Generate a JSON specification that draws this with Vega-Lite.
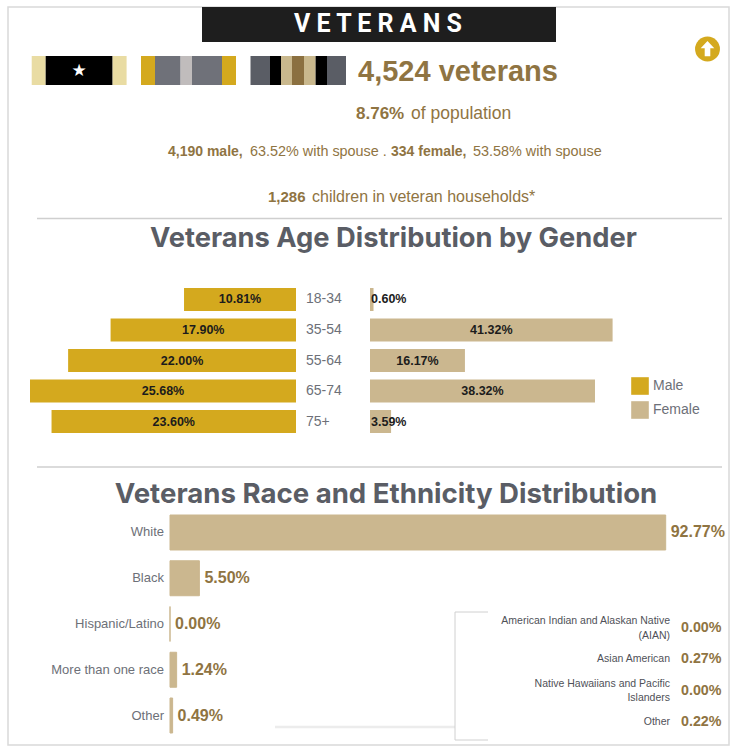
{
"$schema":"https://vega.github.io/schema/vega-lite/v6.json",
"width":730,"height":750,"padding":0,"autosize":{"type":"none"},
"background":"white",
"view":{"stroke":null},
"config":{"view":{"stroke":null},"text":{"font":"Liberation Sans"}},
"datasets":{
"age":[
{"age":"18-34","gender":"Male","pct":0.1081},
{"age":"35-54","gender":"Male","pct":0.1790},
{"age":"55-64","gender":"Male","pct":0.2200},
{"age":"65-74","gender":"Male","pct":0.2568},
{"age":"75+","gender":"Male","pct":0.2360},
{"age":"18-34","gender":"Female","pct":0.0060},
{"age":"35-54","gender":"Female","pct":0.4132},
{"age":"55-64","gender":"Female","pct":0.1617},
{"age":"65-74","gender":"Female","pct":0.3832},
{"age":"75+","gender":"Female","pct":0.0359}],
"race":[
{"race":"White","pct":0.9277},
{"race":"Black","pct":0.0550},
{"race":"Hispanic/Latino","pct":0.0},
{"race":"More than one race","pct":0.0124},
{"race":"Other","pct":0.0049}],
"subrace":[
{"id":"AIAN","label":["American Indian and Alaskan Native","(AIAN)"],"lines":2,"pct":0.0},
{"id":"Asian","label":"Asian American","lines":1,"pct":0.0027},
{"id":"NHPI","label":["Native Hawaiians and Pacific","Islanders"],"lines":2,"pct":0.0},
{"id":"Other","label":"Other","lines":1,"pct":0.0022}],
"ribbons":[
{"ribbon":"A","seg":1,"w":14,"tone":"pale"},
{"ribbon":"A","seg":2,"w":67,"tone":"black"},
{"ribbon":"A","seg":3,"w":14,"tone":"pale"},
{"ribbon":"B","seg":1,"w":14,"tone":"gold"},
{"ribbon":"B","seg":2,"w":25.6,"tone":"slate"},
{"ribbon":"B","seg":3,"w":11.4,"tone":"silver"},
{"ribbon":"B","seg":4,"w":30,"tone":"slate"},
{"ribbon":"B","seg":5,"w":14,"tone":"gold"},
{"ribbon":"C","seg":1,"w":19.5,"tone":"charcoal"},
{"ribbon":"C","seg":2,"w":11,"tone":"black"},
{"ribbon":"C","seg":3,"w":11,"tone":"tan"},
{"ribbon":"C","seg":4,"w":12,"tone":"bronze"},
{"ribbon":"C","seg":5,"w":11.6,"tone":"tan"},
{"ribbon":"C","seg":6,"w":11.4,"tone":"black"},
{"ribbon":"C","seg":7,"w":19,"tone":"charcoal"}]
},
"resolve":{"scale":{"x":"independent","y":"independent"}},
"layer":[
{"data":{"values":[{}]},"mark":{"type":"rect","fill":"white","stroke":"#d9d9d9","strokeWidth":1.5},
 "encoding":{"x":{"value":8},"x2":{"value":729},"y":{"value":7},"y2":{"value":745}}},
{"data":{"values":[{}]},"mark":{"type":"rect","fill":"#1e1e1e"},
 "encoding":{"x":{"value":202},"x2":{"value":556},"y":{"value":7},"y2":{"value":42}}},
{"data":{"values":[{"t":"V E T E R A N S"}]},"mark":{"type":"text","font":"Roboto","fontWeight":"bold","fontSize":25,"color":"white","align":"center","baseline":"middle","x":378,"y":24},
 "encoding":{"text":{"field":"t"}}},
{"data":{"name":"ribbons"},"transform":[{"filter":"datum.ribbon=='A'"}],"mark":{"type":"bar","orient":"horizontal"},
 "encoding":{"x":{"field":"w","type":"quantitative","stack":"zero","axis":null,"scale":{"domain":[0,95],"range":[31.7,126.6]}},"y":{"value":70.5},"size":{"value":29},"order":{"field":"seg"},"detail":{"field":"seg"},
 "fill":{"field":"tone","type":"nominal","legend":null,"scale":{"domain":["pale","black","gold","slate","silver","charcoal","tan","bronze"],"range":["#e9dca3","#000000","#d4a91e","#6f7179","#c0bcbc","#5a5d65","#c9b88d","#8b7040"]}}}},
{"data":{"name":"ribbons"},"transform":[{"filter":"datum.ribbon=='B'"}],"mark":{"type":"bar","orient":"horizontal"},
 "encoding":{"x":{"field":"w","type":"quantitative","stack":"zero","axis":null,"scale":{"domain":[0,95],"range":[141,236]}},"y":{"value":70.5},"size":{"value":29},"order":{"field":"seg"},"detail":{"field":"seg"},
 "fill":{"field":"tone","type":"nominal","legend":null,"scale":{"domain":["pale","black","gold","slate","silver","charcoal","tan","bronze"],"range":["#e9dca3","#000000","#d4a91e","#6f7179","#c0bcbc","#5a5d65","#c9b88d","#8b7040"]}}}},
{"data":{"name":"ribbons"},"transform":[{"filter":"datum.ribbon=='C'"}],"mark":{"type":"bar","orient":"horizontal"},
 "encoding":{"x":{"field":"w","type":"quantitative","stack":"zero","axis":null,"scale":{"domain":[0,95.5],"range":[250.5,346]}},"y":{"value":70.5},"size":{"value":29},"order":{"field":"seg"},"detail":{"field":"seg"},
 "fill":{"field":"tone","type":"nominal","legend":null,"scale":{"domain":["pale","black","gold","slate","silver","charcoal","tan","bronze"],"range":["#e9dca3","#000000","#d4a91e","#6f7179","#c0bcbc","#5a5d65","#c9b88d","#8b7040"]}}}},
{"data":{"values":[{"t":"★"}]},"mark":{"type":"text","font":"DejaVu Sans","fontSize":17,"color":"white","align":"center","baseline":"middle","x":79,"y":71},"encoding":{"text":{"field":"t"}}},
{"data":{"values":[{}]},"mark":{"type":"point","filled":true,"shape":"circle","size":620,"color":"#d4a91e","opacity":1,"x":707.5,"y":49},"encoding":{}},
{"data":{"values":[{}]},"mark":{"type":"point","filled":true,"shape":"M0,-1 L0.85,-0.1 L0.35,-0.1 L0.35,0.9 L-0.35,0.9 L-0.35,-0.1 L-0.85,-0.1 Z","size":256,"color":"white","opacity":1,"x":707.5,"y":49},"encoding":{}},
{"data":{"values":[{"t":"4,524 veterans"}]},"mark":{"type":"text","fontWeight":"bold","fontSize":29,"color":"#8f7442","align":"left","baseline":"middle","x":358,"y":72},"encoding":{"text":{"field":"t"}}},
{"data":{"values":[{"t":"8.76%"}]},"mark":{"type":"text","fontWeight":"bold","fontSize":17,"color":"#8f7442","align":"left","baseline":"middle","x":356,"y":114},"encoding":{"text":{"field":"t"}}},
{"data":{"values":[{"t":"of population"}]},"mark":{"type":"text","fontSize":17.5,"color":"#8f7442","align":"left","baseline":"middle","x":411,"y":114},"encoding":{"text":{"field":"t"}}},
{"data":{"values":[{"t":"4,190 male,"}]},"mark":{"type":"text","fontWeight":"bold","fontSize":14,"color":"#8f7442","align":"left","baseline":"middle","x":168,"y":152},"encoding":{"text":{"field":"t"}}},
{"data":{"values":[{"t":"63.52% with spouse ."}]},"mark":{"type":"text","fontSize":14.4,"color":"#8f7442","align":"left","baseline":"middle","x":250,"y":152},"encoding":{"text":{"field":"t"}}},
{"data":{"values":[{"t":"334 female,"}]},"mark":{"type":"text","fontWeight":"bold","fontSize":14,"color":"#8f7442","align":"left","baseline":"middle","x":391,"y":152},"encoding":{"text":{"field":"t"}}},
{"data":{"values":[{"t":"53.58% with spouse"}]},"mark":{"type":"text","fontSize":14.4,"color":"#8f7442","align":"left","baseline":"middle","x":473,"y":152},"encoding":{"text":{"field":"t"}}},
{"data":{"values":[{"t":"1,286"}]},"mark":{"type":"text","fontWeight":"bold","fontSize":15,"color":"#8f7442","align":"left","baseline":"middle","x":268,"y":197},"encoding":{"text":{"field":"t"}}},
{"data":{"values":[{"t":"children in veteran households*"}]},"mark":{"type":"text","fontSize":16,"color":"#8f7442","align":"left","baseline":"middle","x":312,"y":197},"encoding":{"text":{"field":"t"}}},
{"data":{"values":[{}]},"mark":{"type":"rule","color":"#cfcfcf","strokeWidth":1.5},"encoding":{"x":{"value":37},"x2":{"value":722},"y":{"value":218.5}}},
{"data":{"values":[{}]},"mark":{"type":"rule","color":"#cfcfcf","strokeWidth":1.5},"encoding":{"x":{"value":37},"x2":{"value":722},"y":{"value":467}}},
{"data":{"values":[{"t":"Veterans Age Distribution by Gender"}]},"mark":{"type":"text","font":"Inter","fontWeight":"bold","fontSize":27.3,"color":"#5a5d65","align":"center","baseline":"middle","x":393.5,"y":239},"encoding":{"text":{"field":"t"}}},
{"data":{"values":[{"t":"Veterans Race and Ethnicity Distribution"}]},"mark":{"type":"text","font":"Inter","fontWeight":"bold","fontSize":27.6,"color":"#5a5d65","align":"center","baseline":"middle","x":386,"y":495},"encoding":{"text":{"field":"t"}}},
{"data":{"name":"age"},"transform":[{"filter":"datum.gender=='Male'"}],"mark":"bar",
 "encoding":{"x":{"field":"pct","type":"quantitative","stack":null,"axis":null,"scale":{"domain":[0,0.2568],"range":[296,30]}},
 "y":{"field":"age","type":"ordinal","axis":null,"sort":null,"scale":{"type":"band","domain":["18-34","35-54","55-64","65-74","75+"],"range":[288,433],"paddingInner":0.246,"paddingOuter":0}},
 "color":{"field":"gender","type":"nominal","scale":{"domain":["Male","Female"],"range":["#d4a91e","#cbb78f"]},"legend":{"orient":"none","legendX":630,"legendY":376,"title":null,"symbolType":"square","symbolSize":310,"labelFontSize":14,"labelFont":"Liberation Sans","labelColor":"#6d7078","rowPadding":5,"labelOffset":3}}}},
{"data":{"name":"age"},"transform":[{"filter":"datum.gender=='Female'"}],"mark":"bar",
 "encoding":{"x":{"field":"pct","type":"quantitative","stack":null,"axis":null,"scale":{"domain":[0,0.4132],"range":[370,612.6]}},
 "y":{"field":"age","type":"ordinal","axis":null,"sort":null,"scale":{"type":"band","domain":["18-34","35-54","55-64","65-74","75+"],"range":[288,433],"paddingInner":0.246,"paddingOuter":0}},
 "color":{"field":"gender","type":"nominal","scale":{"domain":["Male","Female"],"range":["#d4a91e","#cbb78f"]}}}},
{"data":{"name":"age"},"transform":[{"filter":"datum.gender=='Male'"}],"mark":{"type":"text","fontWeight":"bold","fontSize":12.5,"color":"#1c1c1c","align":"center","baseline":"middle"},
 "encoding":{"x":{"field":"pct","type":"quantitative","axis":null,"scale":{"domain":[0,0.5136],"range":[296,30]}},
 "y":{"field":"age","type":"ordinal","axis":null,"sort":null,"scale":{"type":"band","domain":["18-34","35-54","55-64","65-74","75+"],"range":[288,433],"paddingInner":0.246,"paddingOuter":0}},
 "text":{"field":"pct","type":"quantitative","format":".2%"}}},
{"data":{"name":"age"},"transform":[{"filter":"datum.gender=='Female' && datum.pct>0.05"}],"mark":{"type":"text","fontWeight":"bold","fontSize":12.5,"color":"#1c1c1c","align":"center","baseline":"middle"},
 "encoding":{"x":{"field":"pct","type":"quantitative","axis":null,"scale":{"domain":[0,0.8264],"range":[370,612.6]}},
 "y":{"field":"age","type":"ordinal","axis":null,"sort":null,"scale":{"type":"band","domain":["18-34","35-54","55-64","65-74","75+"],"range":[288,433],"paddingInner":0.246,"paddingOuter":0}},
 "text":{"field":"pct","type":"quantitative","format":".2%"}}},
{"data":{"name":"age"},"transform":[{"filter":"datum.gender=='Female' && datum.pct<=0.05"}],"mark":{"type":"text","fontWeight":"bold","fontSize":12.5,"color":"#1c1c1c","align":"left","baseline":"middle","x":371},
 "encoding":{
 "y":{"field":"age","type":"ordinal","axis":null,"sort":null,"scale":{"type":"band","domain":["18-34","35-54","55-64","65-74","75+"],"range":[288,433],"paddingInner":0.246,"paddingOuter":0}},
 "text":{"field":"pct","type":"quantitative","format":".2%"}}},
{"data":{"name":"age"},"transform":[{"filter":"datum.gender=='Male'"}],"mark":{"type":"text","fontSize":14,"color":"#6d7078","align":"left","baseline":"middle","x":306},
 "encoding":{
 "y":{"field":"age","type":"ordinal","axis":null,"sort":null,"scale":{"type":"band","domain":["18-34","35-54","55-64","65-74","75+"],"range":[288,433],"paddingInner":0.246,"paddingOuter":0}},
 "text":{"field":"age"}}},
{"data":{"name":"race"},"mark":{"type":"bar","stroke":"#cbb78f","strokeWidth":1},
 "encoding":{"x":{"field":"pct","type":"quantitative","stack":null,"axis":null,"scale":{"domain":[0,0.9277],"range":[170,665.7]}},
 "y":{"field":"race","type":"nominal","axis":null,"sort":null,"scale":{"type":"band","domain":["White","Black","Hispanic/Latino","More than one race","Other"],"range":[515,733],"paddingInner":0.235,"paddingOuter":0}},
 "fill":{"value":"#cbb78f"}}},
{"data":{"name":"race"},"mark":{"type":"text","fontSize":13,"color":"#6d7078","align":"right","baseline":"middle","x":164},
 "encoding":{
 "y":{"field":"race","type":"nominal","axis":null,"sort":null,"scale":{"type":"band","domain":["White","Black","Hispanic/Latino","More than one race","Other"],"range":[515,733],"paddingInner":0.235,"paddingOuter":0}},
 "text":{"field":"race"}}},
{"data":{"name":"race"},"mark":{"type":"text","fontWeight":"bold","fontSize":16,"color":"#8f7442","align":"left","baseline":"middle","dx":5},
 "encoding":{"x":{"field":"pct","type":"quantitative","axis":null,"scale":{"domain":[0,0.9277],"range":[170,665.7]}},
 "y":{"field":"race","type":"nominal","axis":null,"sort":null,"scale":{"type":"band","domain":["White","Black","Hispanic/Latino","More than one race","Other"],"range":[515,733],"paddingInner":0.235,"paddingOuter":0}},
 "text":{"field":"pct","type":"quantitative","format":".2%"}}},
{"data":{"values":[{}]},"mark":{"type":"rule","color":"#ececec","strokeWidth":2.5},"encoding":{"x":{"value":275},"x2":{"value":455},"y":{"value":727}}},
{"data":{"values":[{}]},"mark":{"type":"rule","color":"#d0d0d0","strokeWidth":1},"encoding":{"x":{"value":455},"y":{"value":612},"y2":{"value":740}}},
{"data":{"values":[{}]},"mark":{"type":"rule","color":"#d0d0d0","strokeWidth":1},"encoding":{"x":{"value":455},"x2":{"value":488},"y":{"value":612}}},
{"data":{"values":[{}]},"mark":{"type":"rule","color":"#d0d0d0","strokeWidth":1},"encoding":{"x":{"value":455},"x2":{"value":488},"y":{"value":740}}},
{"data":{"name":"subrace"},"transform":[{"filter":"datum.lines==1"}],"mark":{"type":"text","fontSize":10.5,"color":"#4f5158","align":"right","baseline":"middle","x":670},
 "encoding":{"y":{"field":"id","type":"nominal","axis":null,"sort":null,"scale":{"type":"point","padding":0,"domain":["AIAN","Asian","NHPI","Other"],"range":[628,722]}},
 "text":{"field":"label"}}},
{"data":{"name":"subrace"},"transform":[{"filter":"datum.lines==2"}],"mark":{"type":"text","fontSize":10.5,"lineHeight":14.5,"dy":-7,"color":"#4f5158","align":"right","baseline":"middle","x":670},
 "encoding":{"y":{"field":"id","type":"nominal","axis":null,"sort":null,"scale":{"type":"point","padding":0,"domain":["AIAN","Asian","NHPI","Other"],"range":[628,722]}},
 "text":{"field":"label"}}},
{"data":{"name":"subrace"},"mark":{"type":"text","fontWeight":"bold","fontSize":14.3,"color":"#8f7442","align":"left","baseline":"middle","x":681},
 "encoding":{"y":{"field":"id","type":"nominal","axis":null,"sort":null,"scale":{"type":"point","padding":0,"domain":["AIAN","Asian","NHPI","Other"],"range":[628,722]}},
 "text":{"field":"pct","type":"quantitative","format":".2%"}}}
]
}
